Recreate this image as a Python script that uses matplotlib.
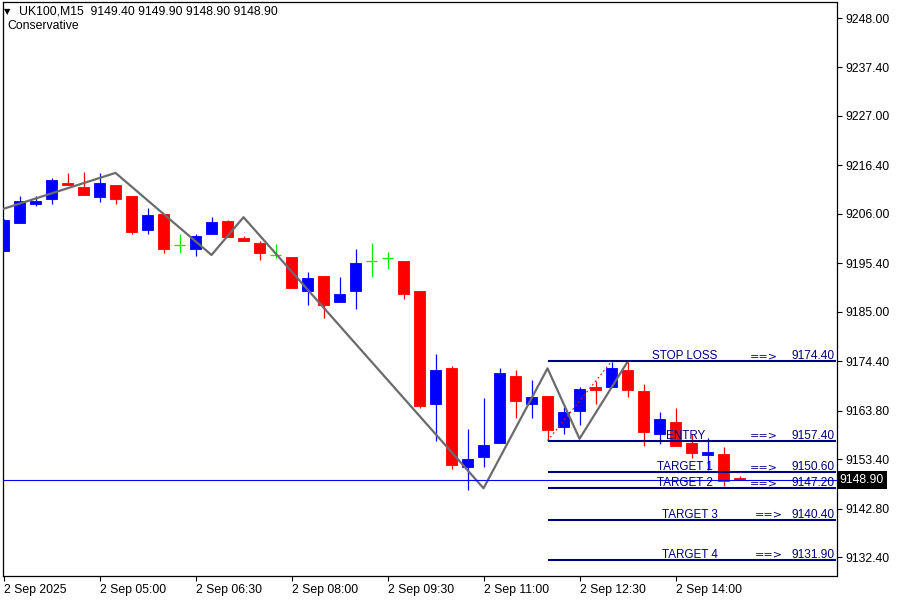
import matplotlib
matplotlib.use('Agg')
import matplotlib.pyplot as plt
import matplotlib.transforms as mtransforms

plt.rcParams['font.family'] = ['Liberation Sans', 'DejaVu Sans']

# UK100 M15 candles, 2 Sep 2025 from 03:30
opens = [9198.1, 9204.1, 9208.2, 9209.1, 9212.6, 9211.8, 9209.7, 9212.2, 9209.8, 9202.6,
         9206.0, 9199.3, 9198.5, 9201.6, 9204.5, 9200.8, 9199.8, 9197.1, 9196.8, 9189.5,
         9192.7, 9187.2, 9189.5, 9195.9, 9196.6, 9195.9, 9189.5, 9165.3, 9173.0, 9151.8,
         9153.8, 9156.8, 9171.3, 9165.3, 9167.0, 9160.4, 9163.8, 9168.9, 9168.8, 9172.5,
         9168.0, 9158.9, 9161.4, 9156.9, 9154.4, 9154.5, 9149.4]
highs = [9204.9, 9209.8, 9209.8, 9213.7, 9214.8, 9215.0, 9214.8, 9212.2, 9209.8, 9207.3,
         9206.0, 9201.7, 9201.7, 9205.3, 9204.7, 9201.3, 9200.2, 9199.6, 9196.8, 9193.6,
         9192.7, 9192.5, 9198.5, 9199.8, 9197.8, 9195.9, 9189.5, 9176.0, 9173.4, 9159.9,
         9166.6, 9173.0, 9172.5, 9170.4, 9167.0, 9164.7, 9168.9, 9170.2, 9174.3, 9174.3,
         9169.5, 9163.5, 9164.4, 9158.8, 9158.0, 9156.0, 9149.9]
lows = [9198.1, 9204.1, 9207.6, 9208.2, 9212.1, 9210.1, 9208.6, 9208.2, 9201.6, 9201.6,
        9197.7, 9197.7, 9197.0, 9201.6, 9201.1, 9200.1, 9196.2, 9196.6, 9190.2, 9186.5,
        9183.8, 9187.2, 9185.7, 9192.5, 9194.3, 9187.7, 9164.3, 9157.4, 9151.4, 9146.8,
        9151.8, 9156.8, 9162.3, 9162.3, 9157.5, 9158.8, 9160.8, 9165.3, 9168.8, 9166.8,
        9156.3, 9156.7, 9156.3, 9153.7, 9151.1, 9147.7, 9148.9]
closes = [9204.7, 9208.8, 9208.8, 9213.3, 9212.1, 9210.1, 9212.6, 9209.1, 9202.2, 9205.8,
          9198.5, 9199.3, 9201.3, 9204.3, 9201.1, 9200.1, 9197.7, 9197.1, 9190.2, 9192.3,
          9186.5, 9188.8, 9195.5, 9195.9, 9196.6, 9188.8, 9164.9, 9172.5, 9152.2, 9153.5,
          9156.5, 9171.9, 9165.8, 9166.8, 9159.7, 9163.5, 9168.5, 9168.3, 9173.0, 9168.3,
          9159.3, 9162.0, 9156.3, 9154.8, 9155.0, 9148.8, 9148.9]

time_labels = ['2 Sep 2025', '2 Sep 05:00', '2 Sep 06:30', '2 Sep 08:00',
               '2 Sep 09:30', '2 Sep 11:00', '2 Sep 12:30', '2 Sep 14:00']
price_ticks = [9248.0, 9237.4, 9227.0, 9216.4, 9206.0, 9195.4,
               9185.0, 9174.4, 9163.8, 9153.4, 9142.8, 9132.4]

zz_bars = [-1, 7, 13, 15, 30, 34, 36, 39]
zz_prices = [9206.0, 9214.8, 9197.2, 9205.3, 9147.2, 9172.9, 9157.8, 9174.3]

level_names = ['STOP LOSS', 'ENTRY', 'TARGET 1', 'TARGET 2', 'TARGET 3', 'TARGET 4']
level_prices = [9174.4, 9157.4, 9150.6, 9147.2, 9140.4, 9131.9]
level_start = 34

dotted_bars = [34, 38]
dotted_prices = [9157.4, 9174.4]

last_price = 9148.9

fig = plt.figure(figsize=(9, 6), dpi=100)
ax = fig.add_axes([2.7 / 900, 24 / 600, 833.8 / 900, 574 / 600])
ax.set_xlim(-0.05, 52.06)
ax.set_ylim(9128.39, 9251.43)

for i in range(len(opens)):
    o, h, l, c = opens[i], highs[i], lows[i], closes[i]
    if c > o:
        col = '#0000ff'
    elif c < o:
        col = '#ff0000'
    else:
        col = '#00ee00'
    ax.vlines(i, l, h, color=col, lw=0.9, zorder=2)
    if c == o:
        ax.hlines(o, i - 0.35, i + 0.35, color=col, lw=0.9, zorder=2)
    else:
        ax.bar(i, abs(c - o), bottom=min(o, c), width=0.66, color=col,
               edgecolor=col, lw=0.6, zorder=3)

ax.plot(zz_bars, zz_prices, color='#6b6b6b', lw=1.6, zorder=4)
ax.plot(dotted_bars, dotted_prices, color='#ff0000', lw=0.8, ls=(0, (1.5, 2.5)), zorder=4)

ax.axhline(last_price, color='#0000ff', lw=0.8, zorder=5)

for k, (name, price) in enumerate(zip(level_names, level_prices)):
    ax.hlines(price, level_start, 52.06, color='#000080', lw=1.5, zorder=5)
    shift = 0.3 if k >= 4 else 0.0
    ax.annotate(name, (42.6 + shift, price), xytext=(0, 2), textcoords='offset pixels',
                ha='center', va='baseline', color='#000080', fontsize=8.4, zorder=6)
    ax.annotate('==>', (46.66 + shift, price), xytext=(0, 2), textcoords='offset pixels',
                ha='left', va='baseline', color='#000080', fontsize=8.0, zorder=6,
                family='DejaVu Sans')
    ax.annotate('%.2f' % price, (51.95, price), xytext=(0, 2), textcoords='offset pixels',
                ha='right', va='baseline', color='#000080', fontsize=8.6, zorder=6)

for s in ax.spines.values():
    s.set_color('black')
    s.set_linewidth(0.9)

ax.yaxis.tick_right()
ax.set_yticks(price_ticks)
ax.set_yticklabels(['%.2f' % p for p in price_ticks])
ax.set_xticks(range(0, 6 * len(time_labels), 6))
ax.set_xticklabels(time_labels)
for lbl in ax.get_xticklabels():
    lbl.set_ha('left')
ax.tick_params(axis='both', length=3.5, width=0.8, labelsize=8.8, colors='black')
ax.tick_params(axis='y', pad=3)
ax.tick_params(axis='x', pad=2)

trans = mtransforms.blended_transform_factory(ax.transAxes, ax.transData)
ax.text(1.004, last_price, '9148.90', transform=trans, ha='left', va='center',
        color='white', fontsize=8.8, zorder=7, clip_on=False,
        bbox=dict(boxstyle='square,pad=0.25', facecolor='black', edgecolor='none'))

fig.text(4 / 900, 1 - 12 / 600, '\u25bc', fontsize=6, va='center', ha='left',
         family='DejaVu Sans')
fig.text(19 / 900, 1 - 12 / 600, 'UK100,M15  9149.40 9149.90 9148.90 9148.90',
         fontsize=8.8, va='center', ha='left')
fig.text(7 / 900, 1 - 26 / 600, 'Conservative', fontsize=8.8, va='center', ha='left')

fig.savefig('out.png', dpi=100, facecolor='white')
